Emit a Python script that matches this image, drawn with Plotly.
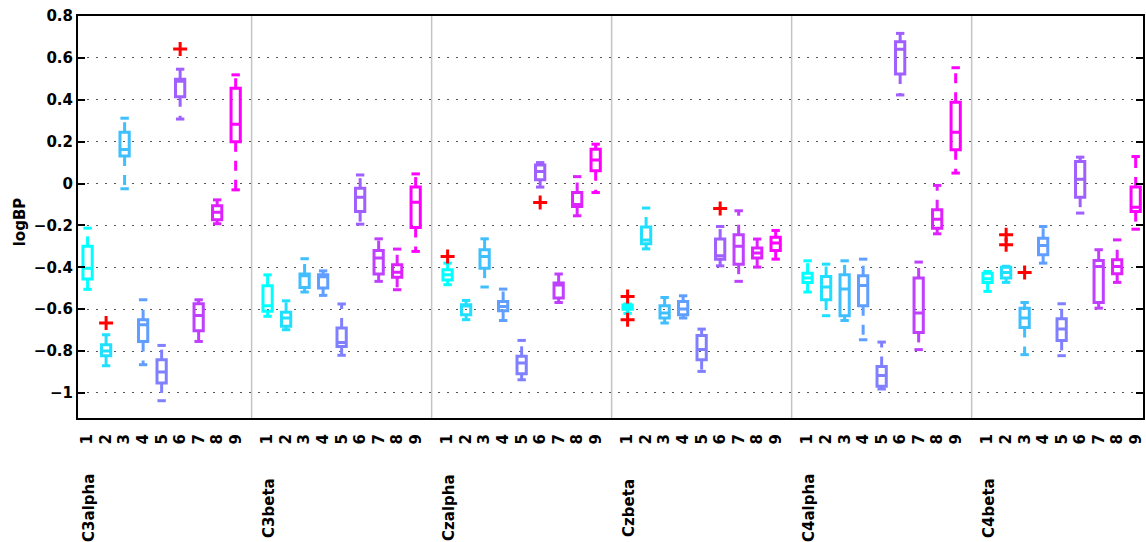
import plotly.graph_objects as go

groups = ["C3alpha", "C3beta", "Czalpha", "Czbeta", "C4alpha", "C4beta"]
box_labels = ["1", "2", "3", "4", "5", "6", "7", "8", "9"]

lower_adj = [
    [-0.505, -0.87, -0.025, -0.865, -1.037, 0.308, -0.754, -0.192, -0.03],
    [-0.634, -0.698, -0.518, -0.534, -0.82, -0.194, -0.467, -0.507, -0.324],
    [-0.483, -0.65, -0.494, -0.654, -0.937, -0.017, -0.568, -0.154, -0.043],
    [-0.62, -0.312, -0.666, -0.642, -0.897, -0.393, -0.467, -0.399, -0.361],
    [-0.518, -0.631, -0.654, -0.746, -0.981, 0.423, -0.793, -0.24, 0.05],
    [-0.515, -0.472, -0.817, -0.38, -0.822, -0.141, -0.595, -0.472, -0.218],
]
q1 = [
    [-0.456, -0.822, 0.132, -0.754, -0.952, 0.415, -0.703, -0.173, 0.20],
    [-0.61, -0.682, -0.496, -0.499, -0.778, -0.134, -0.432, -0.448, -0.21],
    [-0.46, -0.626, -0.404, -0.607, -0.908, 0.018, -0.547, -0.11, 0.061],
    [-0.60, -0.288, -0.642, -0.626, -0.841, -0.361, -0.385, -0.356, -0.32],
    [-0.472, -0.555, -0.631, -0.583, -0.968, 0.523, -0.711, -0.213, 0.161],
    [-0.472, -0.451, -0.687, -0.34, -0.749, -0.065, -0.568, -0.431, -0.134],
]
median = [
    [-0.404, -0.80, 0.163, -0.674, -0.90, 0.488, -0.63, -0.137, 0.283],
    [-0.583, -0.642, -0.44, -0.445, -0.759, -0.065, -0.356, -0.424, -0.089],
    [-0.436, -0.585, -0.348, -0.587, -0.857, 0.057, -0.485, -0.10, 0.113],
    [-0.59, -0.269, -0.618, -0.599, -0.793, -0.345, -0.30, -0.332, -0.284],
    [-0.451, -0.494, -0.504, -0.487, -0.917, 0.641, -0.618, -0.17, 0.245],
    [-0.455, -0.425, -0.642, -0.296, -0.695, 0.021, -0.396, -0.396, -0.113],
]
q3 = [
    [-0.30, -0.770, 0.245, -0.650, -0.841, 0.498, -0.574, -0.106, 0.455],
    [-0.488, -0.615, -0.432, -0.436, -0.69, -0.022, -0.32, -0.388, -0.017],
    [-0.412, -0.579, -0.316, -0.563, -0.825, 0.089, -0.475, -0.043, 0.164],
    [-0.58, -0.208, -0.583, -0.563, -0.725, -0.265, -0.245, -0.308, -0.256],
    [-0.428, -0.444, -0.436, -0.44, -0.873, 0.677, -0.451, -0.125, 0.388],
    [-0.428, -0.40, -0.595, -0.261, -0.646, 0.105, -0.367, -0.364, -0.017],
]
upper_adj = [
    [-0.213, -0.722, 0.312, -0.555, -0.773, 0.546, -0.555, -0.078, 0.519],
    [-0.436, -0.56, -0.359, -0.417, -0.575, 0.041, -0.264, -0.313, 0.046],
    [-0.38, -0.558, -0.264, -0.504, -0.749, 0.10, -0.432, 0.033, 0.188],
    [-0.575, -0.117, -0.544, -0.536, -0.695, -0.205, -0.13, -0.265, -0.224],
    [-0.369, -0.385, -0.369, -0.361, -0.757, 0.717, -0.375, -0.009, 0.553],
    [-0.42, -0.395, -0.568, -0.205, -0.574, 0.126, -0.316, -0.269, 0.129],
]
outlier_group = [0, 0, 2, 2, 3, 3, 3, 5, 5, 5]
outlier_box = [1, 5, 0, 5, 0, 0, 5, 1, 1, 2]
outlier_value = [-0.666, 0.643, -0.348, -0.091, -0.539, -0.650, -0.119, -0.245, -0.292, -0.425]

GROUP_STRIDE = 9.725
N = len(box_labels)


def pos(g, j):
    return g * GROUP_STRIDE + j


def cool(j):
    t = j / (N - 1)
    return "rgb(%d,%d,255)" % (round(255 * t), round(255 * (1 - t)))


fig = go.Figure()

for g in range(len(groups)):
    for j in range(N):
        p = pos(g, j)
        c = cool(j)
        # dashed whiskers
        fig.add_trace(go.Scatter(
            x=[p, p, None, p, p],
            y=[q3[g][j], upper_adj[g][j], None, q1[g][j], lower_adj[g][j]],
            mode="lines", line=dict(color=c, width=3, dash="10px,9px"),
            hoverinfo="skip", showlegend=False))
        # caps
        fig.add_trace(go.Scatter(
            x=[p, p], y=[upper_adj[g][j], lower_adj[g][j]], mode="markers",
            marker=dict(symbol="line-ew", size=6, line=dict(color=c, width=3)),
            hoverinfo="skip", showlegend=False))
        # box
        fig.add_trace(go.Box(
            x=[p], q1=[q1[g][j]], median=[median[g][j]], q3=[q3[g][j]],
            lowerfence=[q1[g][j]], upperfence=[q3[g][j]],
            width=0.5, whiskerwidth=0, boxpoints=False,
            line=dict(color=c, width=3), fillcolor="rgba(0,0,0,0)",
            hoverinfo="skip", showlegend=False))

fig.add_trace(go.Scatter(
    x=[pos(g, j) for g, j in zip(outlier_group, outlier_box)],
    y=outlier_value, mode="markers",
    marker=dict(symbol="cross-thin", size=10, line=dict(color="#ff0000", width=3)),
    hoverinfo="skip", showlegend=False))

shapes = []
for g in range(len(groups) - 1):
    sx = pos(g, N - 1) + (GROUP_STRIDE - (N - 1)) / 2
    shapes.append(dict(type="line", xref="x", yref="paper", x0=sx, x1=sx, y0=0, y1=1,
                       line=dict(color="#c4c4c4", width=1.5), layer="below"))

annotations = []
for g, name in enumerate(groups):
    annotations.append(dict(text=name, x=pos(g, 0) + 0.1, xref="x", y=-0.2226, yref="paper",
                            xanchor="center", yanchor="middle", textangle=-90, showarrow=False,
                            font=dict(family="DejaVu Sans", size=15, color="black", weight="bold")))
annotations.append(dict(text="logBP", x=-0.0544, xref="paper", y=0.487, yref="paper",
                        xanchor="center", yanchor="middle", textangle=-90, showarrow=False,
                        font=dict(family="DejaVu Sans", size=15, color="black", weight="bold")))

tickvals = [pos(g, j) for g in range(len(groups)) for j in range(N)]
ticktext = [box_labels[j] for g in range(len(groups)) for j in range(N)]

fig.update_layout(
    width=1146, height=542,
    margin=dict(l=78, r=1, t=16, b=124),
    plot_bgcolor="white", paper_bgcolor="white",
    showlegend=False, shapes=shapes, annotations=annotations,
    font=dict(family="DejaVu Sans", size=15, color="black", weight="bold"),
    xaxis=dict(range=[-0.518, 57.02], tickvals=tickvals, ticktext=ticktext,
               tickangle=-90, ticks="", showgrid=False, zeroline=False,
               showline=True, linecolor="black", linewidth=2, mirror=True,
               ticklabelstandoff=8,
               tickfont=dict(family="DejaVu Sans", size=15, color="black", weight="bold")),
    yaxis=dict(range=[-1.1195, 0.8], tickvals=[0.8, 0.6, 0.4, 0.2, 0, -0.2, -0.4, -0.6, -0.8, -1],
               ticks="inside", ticklen=7, tickwidth=1.5, tickcolor="black",
               showline=True, linecolor="black", linewidth=2, mirror="ticks",
               showgrid=True, gridcolor="#555555", gridwidth=1, griddash="1.5px,7.5px",
               zeroline=False,
               tickfont=dict(family="DejaVu Sans", size=15, color="black", weight="bold")),
)

fig.write_html("out.html")
